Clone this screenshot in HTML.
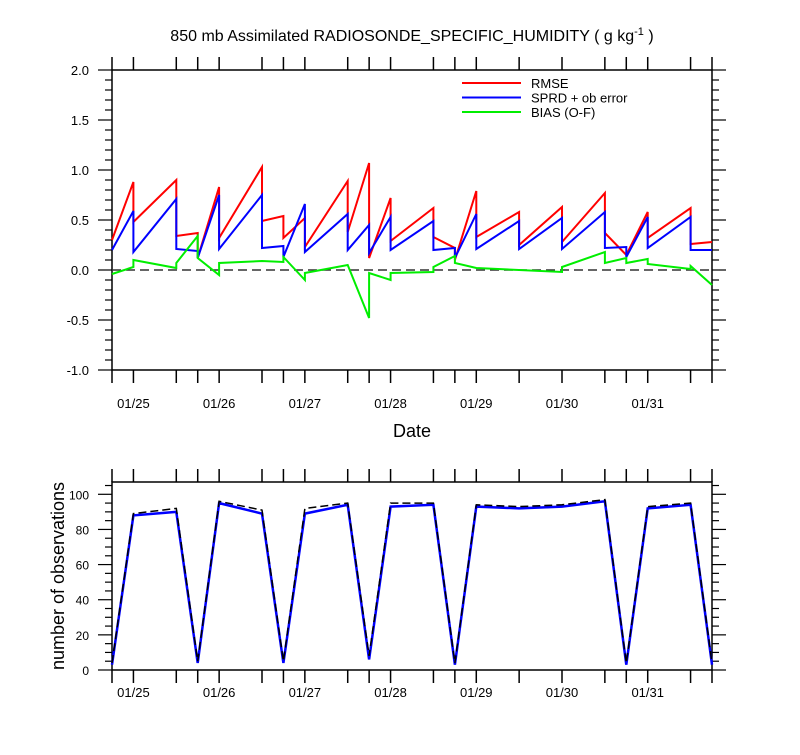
<!DOCTYPE html>
<html><head><meta charset="utf-8"><style>
body{margin:0;background:#fff;}
svg text{font-family:"Liberation Sans",Arial,sans-serif;fill:#000;}
</style></head><body>
<svg id="chart" width="800" height="750" xmlns="http://www.w3.org/2000/svg">
<text x="412" y="41" font-size="16" text-anchor="middle">850 mb Assimilated RADIOSONDE_SPECIFIC_HUMIDITY ( g kg<tspan dy="-6" font-size="11">-1</tspan><tspan dy="6"> )</tspan></text>
<text x="412" y="437" font-size="18" text-anchor="middle">Date</text>
<text transform="translate(64,576) rotate(-90)" font-size="18" text-anchor="middle">number of observations</text>
<g id="top"></g>
<g id="bot"></g>
</svg>
<script>
// ---- data ----
const dateLabels = ["01/25","01/26","01/27","01/28","01/29","01/30","01/31"];
const dateHours = [0,24,48,72,96,120,144];
const obsTimes = [-6,0,12,18,24,36,42,48,60,66,72,84,90,96,108,120,132,138,144,156,162];
const yTicksTop = [-1.0,-0.5,0.0,0.5,1.0,1.5,2.0];
const yTicksBot = [0,20,40,60,80,100];
const rmseHours = [-6,0,0,12,12,18,18,24,24,36,36,42,42,48,48,60,60,66,66,72,72,84,84,90,90,96,96,108,108,120,120,132,132,138,144,144,156,156,162];
const rmseVals  = [0.30,0.88,0.48,0.90,0.34,0.37,0.12,0.83,0.32,1.03,0.49,0.54,0.32,0.52,0.23,0.89,0.38,1.07,0.12,0.72,0.29,0.62,0.33,0.22,0.10,0.79,0.33,0.58,0.25,0.63,0.28,0.77,0.37,0.15,0.58,0.32,0.62,0.26,0.28];
const sprdHours = [-6,0,0,12,12,18,18,24,24,36,36,42,42,48,48,60,60,66,66,72,72,84,84,90,90,96,96,108,108,120,120,132,132,138,138,144,144,156,156,162];
const sprdVals  = [0.20,0.59,0.18,0.71,0.21,0.19,0.12,0.75,0.21,0.75,0.22,0.24,0.13,0.66,0.18,0.56,0.20,0.45,0.17,0.53,0.20,0.49,0.20,0.22,0.12,0.56,0.21,0.49,0.21,0.52,0.21,0.58,0.22,0.23,0.13,0.53,0.22,0.53,0.20,0.20];
const biasHours = [-6,0,0,12,12,18,18,24,24,36,42,42,48,48,60,66,66,72,72,84,84,90,90,96,120,120,132,132,138,138,144,144,156,156,162];
const biasVals  = [-0.04,0.03,0.10,0.02,0.07,0.34,0.12,-0.05,0.07,0.09,0.08,0.13,-0.10,-0.03,0.05,-0.48,-0.03,-0.10,-0.03,-0.02,0.03,0.14,0.07,0.02,-0.02,0.03,0.18,0.07,0.12,0.07,0.11,0.06,0.01,0.04,-0.15];
const obsUsed   = [3,88,90,4,95,89,4,89,94,6,93,94,3,93,92,93,96,3,92,94,3];
const obsTotal  = [4,89,92,5,96,91,5,92,95,8,95,95,4,94,93,94,97,4,93,95,4];

// ---- layout ----
const NS="http://www.w3.org/2000/svg";
const X0=112,X1=712,H0=-6,H1=162;
const xs=h=>X0+(h-H0)/(H1-H0)*(X1-X0);
const T={top:70,bot:370,min:-1,max:2};
const B={top:482,bot:670,min:0,max:107};
const ysT=v=>T.bot-(v-T.min)/(T.max-T.min)*(T.bot-T.top);
const ysB=v=>B.bot-(v-B.min)/(B.max-B.min)*(B.bot-B.top);
function mk(parent,tag,attrs){const e=document.createElementNS(NS,tag);for(const k in attrs)e.setAttribute(k,attrs[k]);parent.appendChild(e);return e;}
const gT=document.getElementById('top'),gB=document.getElementById('bot');

function axes(g,P,ys,ticks,minorStep,fmt,fs,labY,prefix){
  const fr=mk(g,'rect',{x:X0,y:P.top,width:X1-X0,height:P.bot-P.top,fill:'none',stroke:'#000','stroke-width':1.5});
  
  
  obsTimes.forEach(h=>{
    const x=xs(h);
    const t1=mk(g,'line',{x1:x,x2:x,y1:P.top,y2:P.top-13,stroke:'#000','stroke-width':1.5});
    
    
    const t2=mk(g,'line',{x1:x,x2:x,y1:P.bot,y2:P.bot+13,stroke:'#000','stroke-width':1.5});
    
    
  });
  dateHours.forEach((h,i)=>{
    const t=mk(g,'text',{x:xs(h),y:labY,'font-size':13,'text-anchor':'middle'});t.textContent=dateLabels[i];
    
    
  });
  for(let v=P.min;v<=P.max+1e-9;v+=minorStep){
    const y=ys(v);
    const major=ticks.some(t=>Math.abs(t-v)<1e-6);
    const len=major?14:7;
    const a=mk(g,'line',{x1:X0,x2:X0-len,y1:y,y2:y,stroke:'#000','stroke-width':1.2});
    
    
    const b=mk(g,'line',{x1:X1,x2:X1+len,y1:y,y2:y,stroke:'#000','stroke-width':1.2});
    
    
  }
  ticks.forEach(v=>{
    const t=mk(g,'text',{x:89,y:ys(v)+5,'font-size':fs,'text-anchor':'end'});t.textContent=fmt(v);
    
    
  });
}
axes(gT,T,ysT,yTicksTop,0.1,v=>v.toFixed(1),13,408,'top');
axes(gB,B,ysB,yTicksBot,5,v=>String(v),12,697,'bottom');

function line(g,hs,vs,ys,color,w,dash,name){
  const pts=hs.map((h,i)=>xs(h).toFixed(1)+','+ys(vs[i]).toFixed(1)).join(' ');
  const p=mk(g,'polyline',{points:pts,fill:'none',stroke:color,'stroke-width':w,'stroke-linejoin':'miter'});
  if(dash)p.setAttribute('stroke-dasharray',dash);
  
  
}
const zl=mk(gT,'line',{x1:X0,x2:X1,y1:ysT(0),y2:ysT(0),stroke:'#333','stroke-width':1.5,'stroke-dasharray':'9,5'});


line(gT,rmseHours,rmseVals,ysT,'#ff0000',2,null,'rmse-line');
line(gT,sprdHours,sprdVals,ysT,'#0000ff',2,null,'spread-line');
line(gT,biasHours,biasVals,ysT,'#00ee00',2,null,'bias-line');
line(gB,obsTimes,obsUsed,ysB,'#0000ff',2.5,null,'obs-assimilated-line');
line(gB,obsTimes,obsTotal,ysB,'#000',1.5,'8,4','obs-possible-line');

const legNames=["RMSE","SPRD + ob error","BIAS (O-F)"],legCols=['#ff0000','#0000ff','#00ee00'];
legNames.forEach((n,i)=>{
  const y=83+i*14.5;
  const l=mk(gT,'line',{x1:462,x2:521,y1:y,y2:y,stroke:legCols[i],'stroke-width':2});
  
  
  const t=mk(gT,'text',{x:531,y:y+5,'font-size':13});t.textContent=n;
  
  
});
</script>
</body></html>
